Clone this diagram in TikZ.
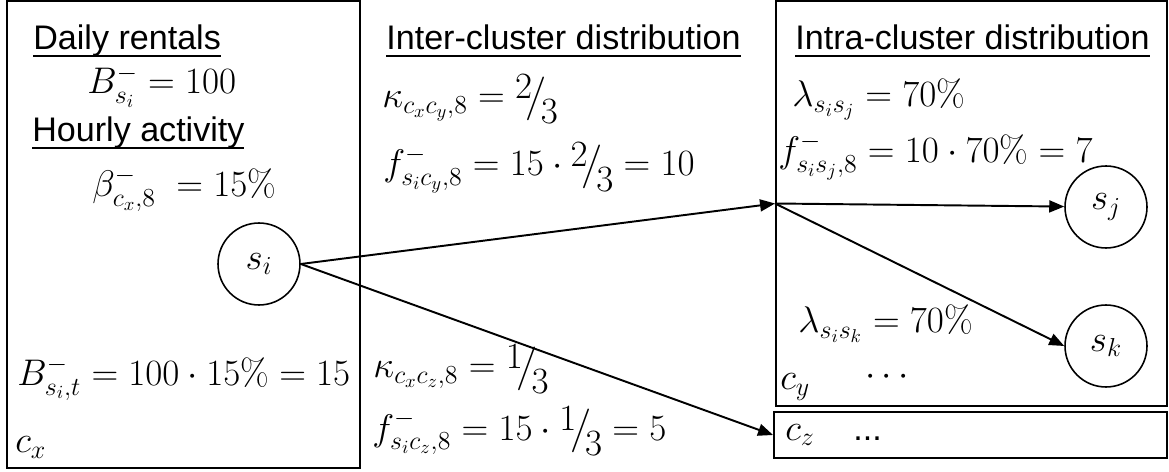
\documentclass[tikz,border=0pt]{standalone}
\usepackage{fix-cm}
\usepackage{amsmath}
\usepackage{fontspec}
\usepackage{tikz}
\usetikzlibrary{arrows.meta,positioning,fit}
\newfontfamily\headfont{Liberation Sans}
% slanted fraction, digits at full size
\newcommand{\slfrac}[2]{\raisebox{0.6ex}{$#1$}\!\big/\!\raisebox{-1ex}{$#2$}}
% underline at a fixed depth
\newlength\hdwd
\newcommand{\hul}[1]{\settowidth{\hdwd}{#1}\rlap{\rule[-0.2em]{\hdwd}{0.06em}}#1}

\begin{document}
\begin{tikzpicture}[x=0.02cm,y=-0.02cm,
  font=\fontsize{21.1}{25}\selectfont,
  cluster/.style={draw,line width=1.1pt,inner sep=0pt},
  station/.style={draw,circle,line width=0.9pt,minimum size=1.64cm,inner sep=0pt},
  lbl/.style={anchor=base west,inner sep=0pt},
  head/.style={lbl,font=\fontsize{19.4}{23}\selectfont\headfont},
  flow/.style={-{Triangle[length=3mm,width=2.4mm]},line width=1.1pt}
]
\useasboundingbox (0,0) rectangle (1169,472);

% clusters
\node[cluster,fit={(7,1) (360,468)}] (cx) {};
\node[cluster,fit={(776,1) (1167,406)}] (cy) {};
\node[cluster,fit={(774,412) (1167,458)}] (cz) {};

% stations
\node[station] (si) at (259,264) {$s_i$};
\node[station] (sj) at (1106,207) {$s_j$};
\node[station] (sk) at (1106,346) {$s_k$};

% left cluster
\node[head] (daily) at (33,50) {\hul{Daily rentals}};
\node[lbl] (bsi) at (87,94) {$B^-_{s_i}=100$};
\node[head] (hourly) at (32,142) {\hul{Hourly activity}};
\node[lbl] (beta) at (92,197) {$\beta^-_{c_x,8}\;=15\%$};
\node[lbl] (bsit) at (17,386) {$B^-_{s_i,t}=100\cdot15\%=15$};
\node[lbl] (lcx) at (15,453) {$c_x$};

% inter-cluster
\node[head] (inter) at (386,50) {\hul{Inter-cluster distribution}};
\node[lbl] (kxy) at (382,108) {$\kappa_{c_xc_y,8}=\slfrac{2}{3}$};
\node[lbl] (fxy) at (383,176) {$f^-_{s_ic_y,8}=15\cdot\slfrac{2}{3}=10$};
\node[lbl] (kxz) at (373,378) {$\kappa_{c_xc_z,8}=\slfrac{1}{3}$};
\node[lbl] (fxz) at (372,440) {$f^-_{s_ic_z,8}=15\cdot\slfrac{1}{3}=5$};

% intra-cluster
\node[head] (intra) at (795,50) {\hul{Intra-cluster distribution}};
\node[lbl] (lij) at (792,107) {$\lambda_{s_is_j}=70\%$};
\node[lbl] (fij) at (778,163) {$f^-_{s_is_j,8}=10\cdot70\%=7$};
\node[lbl] (lik) at (798,333) {$\lambda_{s_is_k}=70\%$};
\node[lbl] (moreY) at (865,386) {$\cdots$};
\node[lbl] (lcy) at (780,390) {$c_y$};
\node[lbl] (lcz) at (785,440) {$c_z$};
\node[head] (moreZ) at (853,440) {...};

% flows
\draw[flow] (si.east) -- (cy.west);
\draw[flow] (si.east) -- (cz.west);
\draw[flow] (cy.west) -- (sj);
\draw[flow] (cy.west) -- (sk.west);
\end{tikzpicture}
\end{document}
